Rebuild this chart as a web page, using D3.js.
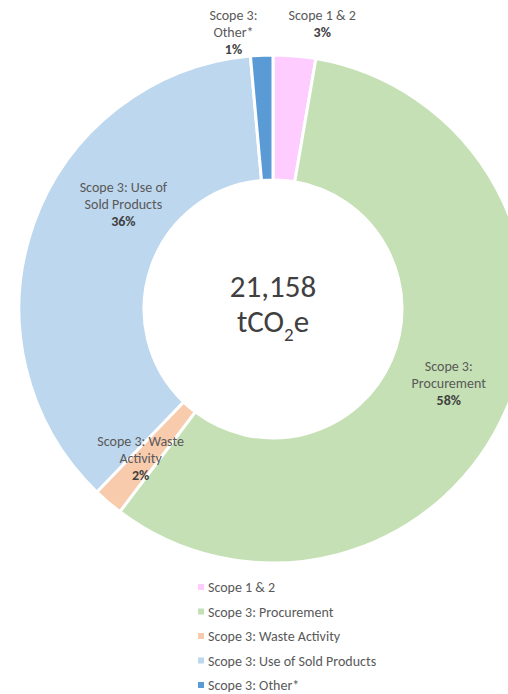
<!DOCTYPE html>
<html>
<head>
<meta charset="utf-8">
<script src="https://cdn.jsdelivr.net/npm/d3@7"></script>
<style>
  body { margin: 0; background: #fff; }
  svg { display: block; font-family: Carlito, Calibri, Lato, sans-serif; }
</style>
</head>
<body>
<div id="chart-area"></div>
<script>
// emissions by category, tCO2e (total 21,158)
var categories = ["Scope 1 & 2", "Scope 3: Procurement", "Scope 3: Waste Activity", "Scope 3: Use of Sold Products", "Scope 3: Other*"];
var values = [571, 12187, 402, 7698, 300];
var labelLines = [["Scope 1 & 2"], ["Scope 3:", "Procurement"], ["Scope 3: Waste", "Activity"], ["Scope 3: Use of", "Sold Products"], ["Scope 3:", "Other*"]];
var colors = ["#FFCCFF", "#C5E0B4", "#F8CBAD", "#BDD7EE", "#5B9BD5"];
// label nudges from the slice centroid, like excel's dragged labels
var labelShift = [[33, -95], [0, -2], [-8, 3], [31, -41], [-31, -86]];

var width = 508, height = 694;
var cx = 273, cy = 309;
var outerR = 254, innerR = 129;

var total = d3.sum(values);

var svg = d3.select("#chart-area")
    .append("svg")
    .attr("width", width)
    .attr("height", height);

var g = svg.append("g")
    .attr("transform", "translate(" + cx + "," + cy + ")");

var pie = d3.pie().sort(null).value(function(d) { return d; });
var arc = d3.arc().innerRadius(innerR).outerRadius(outerR);

var arcs = pie(values);

g.selectAll("path")
    .data(arcs)
    .enter()
    .append("path")
    .attr("d", arc)
    .attr("fill", function(d, i) { return colors[i]; })
    .attr("stroke", "#fff")
    .attr("stroke-width", 3);

// data labels
var labels = svg.selectAll(".lbl")
    .data(arcs)
    .enter()
    .append("text")
    .attr("class", "lbl")
    .attr("text-anchor", "middle")
    .attr("font-size", "14px")
    .attr("fill", "#595959");

labels.each(function(d, i) {
    var c = arc.centroid(d);
    var x = cx + c[0] + labelShift[i][0];
    var y = cy + c[1] + labelShift[i][1];
    var lines = labelLines[i];
    var n = lines.length + 1;
    var top = y - (n - 1) / 2 * 17 + 5;
    var t = d3.select(this);
    lines.forEach(function(l, k) {
        t.append("tspan").attr("x", x).attr("y", top + k * 17).text(l);
    });
    t.append("tspan")
        .attr("x", x)
        .attr("y", top + lines.length * 17)
        .attr("font-weight", "bold")
        .attr("fill", "#404040")
        .text(Math.round(d.data / total * 100) + "%");
});

// centre total
g.append("text")
    .attr("text-anchor", "middle")
    .attr("y", -12)
    .attr("font-size", "31px")
    .attr("fill", "#404040")
    .text(d3.format(",")(total));

var unit = g.append("text")
    .attr("text-anchor", "middle")
    .attr("y", 23)
    .attr("font-size", "31px")
    .attr("fill", "#404040");
unit.append("tspan").text("tCO");
unit.append("tspan").attr("font-size", "19px").attr("dy", 9).text("2");
unit.append("tspan").attr("dy", -9).text("e");

// legend
var legend = svg.selectAll(".leg")
    .data(categories)
    .enter()
    .append("g")
    .attr("class", "leg")
    .attr("transform", function(d, i) { return "translate(198," + (587 + i * 24.5) + ")"; });

legend.append("rect")
    .attr("x", 0)
    .attr("y", -3)
    .attr("width", 6)
    .attr("height", 6)
    .attr("fill", function(d, i) { return colors[i]; });

legend.append("text")
    .attr("x", 10)
    .attr("y", 5)
    .attr("font-size", "14px")
    .attr("fill", "#595959")
    .text(function(d) { return d; });
</script>
</body>
</html>
